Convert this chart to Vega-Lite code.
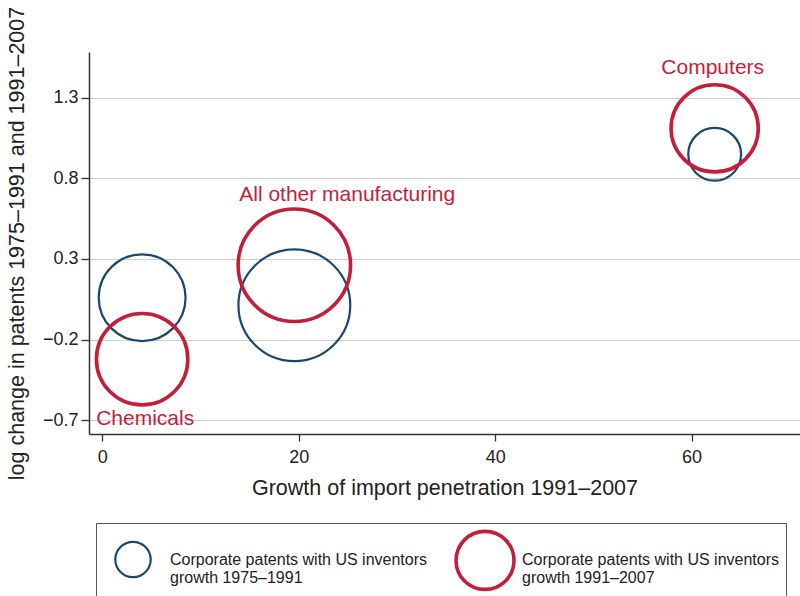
{
  "$schema": "https://vega.github.io/schema/vega-lite/v6.json",
  "autosize": {"type": "none"},
  "padding": {"left": 89, "top": 52, "right": 0, "bottom": 162},
  "width": 711,
  "height": 382,
  "background": "white",
  "config": {
    "view": {"stroke": null},
    "font": "Liberation Sans",
    "axis": {"labelFont": "Liberation Sans", "titleFont": "Liberation Sans", "titleFontWeight": "normal"}
  },
  "datasets": {
    "points": [
      {"industry": "Chemicals", "series": "1975–1991", "import_growth": 4.05, "log_change": 0.060, "weight": 59.2},
      {"industry": "Chemicals", "series": "1991–2007", "import_growth": 4.05, "log_change": -0.321, "weight": 65.6},
      {"industry": "All other manufacturing", "series": "1975–1991", "import_growth": 19.55, "log_change": 0.013, "weight": 98.2},
      {"industry": "All other manufacturing", "series": "1991–2007", "import_growth": 19.55, "log_change": 0.261, "weight": 99.2},
      {"industry": "Computers", "series": "1975–1991", "import_growth": 62.35, "log_change": 0.949, "weight": 21.9},
      {"industry": "Computers", "series": "1991–2007", "import_growth": 62.35, "log_change": 1.110, "weight": 59.7}
    ],
    "labels": [
      {"label": "Computers", "lx": 62.15, "ly": 1.486},
      {"label": "All other manufacturing", "lx": 24.93, "ly": 0.696},
      {"label": "Chemicals", "lx": 4.36, "ly": -0.694}
    ]
  },
  "resolve": {"scale": {"size": "independent", "color": "independent", "strokeWidth": "independent"}},
  "layer": [
    {
      "data": {"name": "points"},
      "mark": {"type": "point", "shape": "circle", "filled": false, "opacity": 1, "clip": false},
      "encoding": {
        "x": {
          "field": "import_growth", "type": "quantitative",
          "scale": {"domain": [-1.36, 71.04], "nice": false, "zero": false},
          "axis": {
            "values": [0, 20, 40, 60], "grid": false,
            "domainColor": "#333333", "domainWidth": 1.5,
            "tickColor": "#333333", "tickSize": 7, "tickWidth": 1.3,
            "labelFontSize": 18, "labelColor": "#222222", "labelPadding": 7,
            "title": "Growth of import penetration 1991–2007",
            "titleFontSize": 21.5, "titleColor": "#222222", "titlePadding": 11
          }
        },
        "y": {
          "field": "log_change", "type": "quantitative",
          "scale": {"domain": [-0.785, 1.583], "nice": false, "zero": false},
          "axis": {
            "values": [-0.7, -0.2, 0.3, 0.8, 1.3], "format": ".1f",
            "grid": true, "gridColor": "#cfcfcf", "gridWidth": 1.2,
            "domainColor": "#333333", "domainWidth": 1.5,
            "tickColor": "#333333", "tickSize": 8, "tickWidth": 1.3,
            "labelFontSize": 18, "labelColor": "#222222", "labelPadding": 3,
            "title": "log change in patents 1975–1991 and 1991–2007",
            "titleFontSize": 21.5, "titleColor": "#222222", "titlePadding": 14
          }
        },
        "color": {
          "field": "series", "type": "nominal",
          "scale": {"domain": ["1975–1991", "1991–2007"], "range": ["#1a476f", "#c41e3a"]},
          "legend": null
        },
        "strokeWidth": {
          "field": "series", "type": "nominal",
          "scale": {"domain": ["1975–1991", "1991–2007"], "range": [2.2, 3.6]},
          "legend": null
        },
        "size": {
          "field": "weight", "type": "quantitative",
          "scale": {"type": "linear", "domain": [0, 100], "range": [0, 12732], "zero": true},
          "legend": null
        }
      }
    },
    {
      "data": {"name": "points"},
      "mark": {"type": "point", "shape": "circle", "filled": false, "opacity": 0},
      "encoding": {
        "x": {"field": "import_growth", "type": "quantitative"},
        "y": {"field": "log_change", "type": "quantitative"},
        "color": {
          "field": "series", "type": "nominal",
          "scale": {"domain": ["1975–1991", "1991–2007"], "range": ["#1a476f", "#c41e3a"]},
          "legend": {
            "title": null, "orient": "none", "legendX": 7, "legendY": 471,
            "direction": "horizontal", "columns": 2, "padding": 6, "columnPadding": 20,
            "strokeColor": "#555555", "fillColor": "white",
            "labelFont": "Liberation Sans", "labelFontSize": 16, "labelColor": "#222222",
            "labelOffset": 6, "labelLimit": 400, "symbolType": "circle", "symbolOpacity": 1,
            "labelExpr": "datum.label == '1991–2007' ? ['Corporate patents with US inventors\u00a0\u00a0', 'growth ' + datum.label] : ['Corporate patents with US inventors', 'growth ' + datum.label]"
          }
        },
        "strokeWidth": {
          "field": "series", "type": "nominal",
          "scale": {"domain": ["1975–1991", "1991–2007"], "range": [2.2, 3.6]},
          "legend": {
            "title": null, "orient": "none", "legendX": 7, "legendY": 471,
            "direction": "horizontal", "columns": 2, "padding": 6, "columnPadding": 20,
            "strokeColor": "#555555", "fillColor": "white",
            "labelFont": "Liberation Sans", "labelFontSize": 16, "labelColor": "#222222",
            "labelOffset": 6, "labelLimit": 400, "symbolType": "circle", "symbolOpacity": 1,
            "labelExpr": "datum.label == '1991–2007' ? ['Corporate patents with US inventors\u00a0\u00a0', 'growth ' + datum.label] : ['Corporate patents with US inventors', 'growth ' + datum.label]"
          }
        },
        "size": {
          "field": "series", "type": "nominal",
          "scale": {"domain": ["1975–1991", "1991–2007"], "range": [1253, 3364]},
          "legend": {
            "title": null, "orient": "none", "legendX": 7, "legendY": 471,
            "direction": "horizontal", "columns": 2, "padding": 6, "columnPadding": 20,
            "strokeColor": "#555555", "fillColor": "white",
            "labelFont": "Liberation Sans", "labelFontSize": 16, "labelColor": "#222222",
            "labelOffset": 6, "labelLimit": 400, "symbolType": "circle", "symbolOpacity": 1,
            "labelExpr": "datum.label == '1991–2007' ? ['Corporate patents with US inventors\u00a0\u00a0', 'growth ' + datum.label] : ['Corporate patents with US inventors', 'growth ' + datum.label]"
          }
        }
      }
    },
    {
      "data": {"name": "labels"},
      "mark": {"type": "text", "font": "Liberation Sans", "fontSize": 21, "color": "#c41e3a", "align": "center", "baseline": "middle"},
      "encoding": {
        "x": {"field": "lx", "type": "quantitative"},
        "y": {"field": "ly", "type": "quantitative"},
        "text": {"field": "label", "type": "nominal"}
      }
    }
  ]
}
